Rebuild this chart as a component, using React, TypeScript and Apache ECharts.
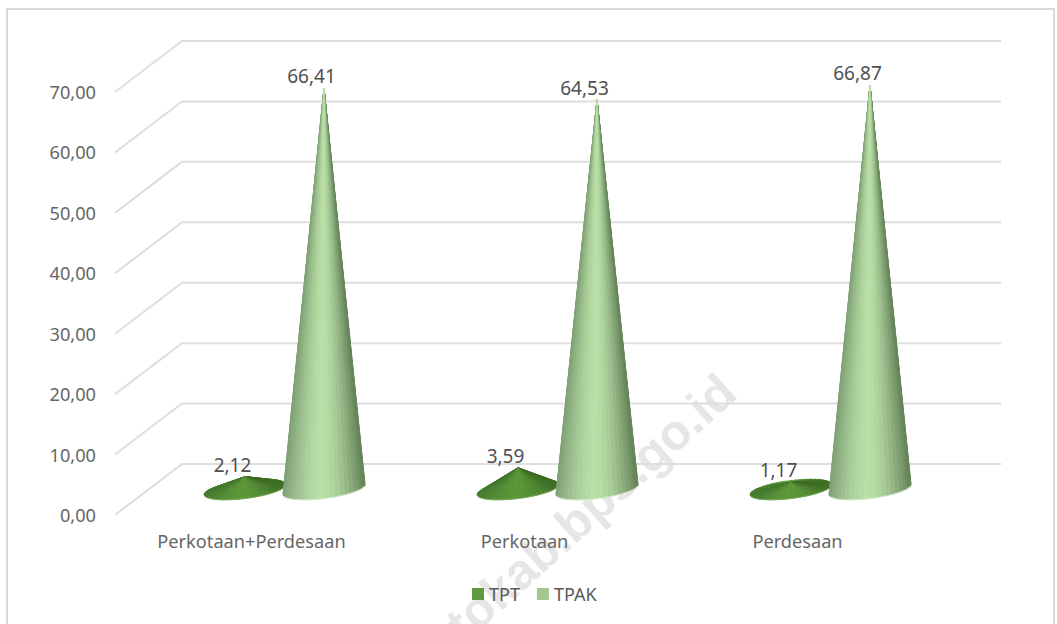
import React, { useEffect, useRef } from "react";
import * as echarts from "echarts";

const categories = ["Perkotaan+Perdesaan", "Perkotaan", "Perdesaan"];
const tptValues = [2.12, 3.59, 1.17];
const tpakValues = [66.41, 64.53, 66.87];
const yTicks = [0, 10, 20, 30, 40, 50, 60, 70];

const FONT = '"Noto Sans"';
const WALL_DX = 67;
const WALL_DY = 51;
const BASE_DEPTH = 25.5;
const RX = 41;
const RY = 9;
const TILT = 5;
const FAN = 48;

const comma = (v: number) => v.toFixed(2).replace(".", ",");

const hex = (c: string) => [1, 3, 5].map((i) => parseInt(c.slice(i, i + 2), 16));
const mix = (a: string, b: string, k: number) => {
  const A = hex(a);
  const B = hex(b);
  return `rgb(${A.map((v, i) => Math.round(v + (B[i] - v) * k)).join(",")})`;
};

type Palette = { left: string; right: string; light: string; rim: string };

const coneRenderer = (offsetX: number, pal: Palette) => (_: any, api: any) => {
  const cat = api.value(0);
  const v = api.value(1);
  const top = api.coord([cat, v]);
  const zero = api.coord([cat, 0]);
  const cx = top[0] + offsetX;
  const by = zero[1] - BASE_DEPTH;
  const ay = top[1] - BASE_DEPTH;
  const pt = (a: number) => [
    cx + RX * Math.cos(a),
    by + RY * Math.sin(a) - TILT * Math.cos(a),
  ];
  const slices: any[] = [];
  for (let i = 0; i < FAN; i++) {
    const a0 = (i / FAN) * Math.PI * 2;
    const a1 = ((i + 1) / FAN) * Math.PI * 2;
    const mid = (a0 + a1) / 2;
    const t = Math.cos(mid) + 0.05;
    const k = 1 - Math.pow(Math.min(1, Math.abs(t)), 1.6);
    const fill = mix(t < 0 ? pal.left : pal.right, pal.light, k);
    slices.push({
      depth: Math.sin(mid),
      el: {
        type: "polygon",
        shape: { points: [[cx, ay], pt(a0), pt(a1)] },
        style: { fill, stroke: fill, lineWidth: 0.7 },
        silent: true,
      },
    });
  }
  slices.sort((a, b) => a.depth - b.depth);
  const rim: number[][] = [];
  for (let i = 2; i <= 22; i++) rim.push(pt((i / 24) * Math.PI));
  return {
    type: "group",
    children: [
      ...slices.map((s) => s.el),
      {
        type: "polyline",
        shape: { points: rim },
        style: { fill: "none", stroke: pal.rim, lineWidth: 1, opacity: 0.8 },
        silent: true,
      },
      {
        type: "text",
        silent: true,
        style: {
          text: comma(v),
          x: cx - 12.5,
          y: ay - 12,
          align: "center",
          verticalAlign: "middle",
          fontFamily: FONT,
          fontSize: 19,
          fill: "#505050",
        },
      },
    ],
  };
};

const wallRenderer = (params: any, api: any) => {
  const sys = params.coordSys;
  const p = api.coord([0, api.value(1)]);
  return {
    type: "polyline",
    silent: true,
    shape: {
      points: [
        [sys.x, p[1]],
        [sys.x + WALL_DX, p[1] - WALL_DY],
        [sys.x + sys.width + WALL_DX, p[1] - WALL_DY],
      ],
    },
    style: { fill: "none", stroke: "#dedede", lineWidth: 2 },
  };
};

export default function App() {
  const ref = useRef<HTMLDivElement>(null);
  useEffect(() => {
    const chart = echarts.init(ref.current!, undefined, { renderer: "svg" });
    chart.setOption({
      animation: false,
      backgroundColor: "#ffffff",
      textStyle: { fontFamily: FONT },
      graphic: [
        {
          type: "rect",
          shape: { x: 7, y: 9, width: 1047, height: 630 },
          style: { fill: "none", stroke: "#d9d9d9", lineWidth: 2 },
          silent: true,
        },
        {
          type: "text",
          x: 728,
          y: 384,
          rotation: (42 * Math.PI) / 180,
          silent: true,
          style: {
            text: "tokab.bps.go.id",
            align: "right",
            verticalAlign: "middle",
            font: 'bold 50px "Liberation Sans"',
            fill: "#e6e6e6",
          },
        },
      ],
      grid: { left: 115, width: 819, top: 92, height: 423 },
      legend: {
        data: ["TPT", "TPAK"],
        left: 472,
        top: 585,
        padding: 0,
        icon: "rect",
        itemWidth: 12,
        itemHeight: 12,
        itemGap: 17,
        selectedMode: false,
        textStyle: { fontFamily: FONT, fontSize: 18, color: "#595959" },
      },
      xAxis: {
        type: "category",
        data: categories,
        axisLine: { show: false },
        axisTick: { show: false },
        splitLine: { show: false },
        axisLabel: { fontFamily: FONT, fontSize: 18.2, color: "#666666", margin: 17, interval: 0 },
      },
      yAxis: {
        type: "value",
        min: 0,
        max: 70,
        interval: 10,
        axisLine: { show: false },
        axisTick: { show: false },
        splitLine: { show: false },
        axisLabel: {
          fontFamily: FONT,
          fontSize: 18.2,
          color: "#666666",
          margin: 19,
          padding: [0, 0, 2, 0],
          formatter: comma,
        },
      },
      series: [
        {
          type: "custom",
          name: "wall",
          silent: true,
          renderItem: wallRenderer,
          data: yTicks.map((t) => [0, t]),
          encode: { x: 0, y: 1 },
          z: 1,
        },
        {
          type: "custom",
          name: "TPT",
          itemStyle: { color: "#5f9a3c" },
          renderItem: coneRenderer(-6.5, {
            left: "#40752a",
            right: "#3c6c23",
            light: "#5b9738",
            rim: "#76ad55",
          }),
          data: tptValues.map((v, i) => [i, v]),
          encode: { x: 0, y: 1 },
          z: 2,
        },
        {
          type: "custom",
          name: "TPAK",
          itemStyle: { color: "#a3c78f" },
          renderItem: coneRenderer(72.5, {
            left: "#7a9a70",
            right: "#68865c",
            light: "#b9dfa7",
            rim: "#d4eec8",
          }),
          data: tpakValues.map((v, i) => [i, v]),
          encode: { x: 0, y: 1 },
          z: 3,
        },
      ],
    });
    return () => chart.dispose();
  }, []);
  return (
    <div
      ref={ref}
      style={{ position: "fixed", left: 0, top: 0, width: 1057, height: 624 }}
    />
  );
}
